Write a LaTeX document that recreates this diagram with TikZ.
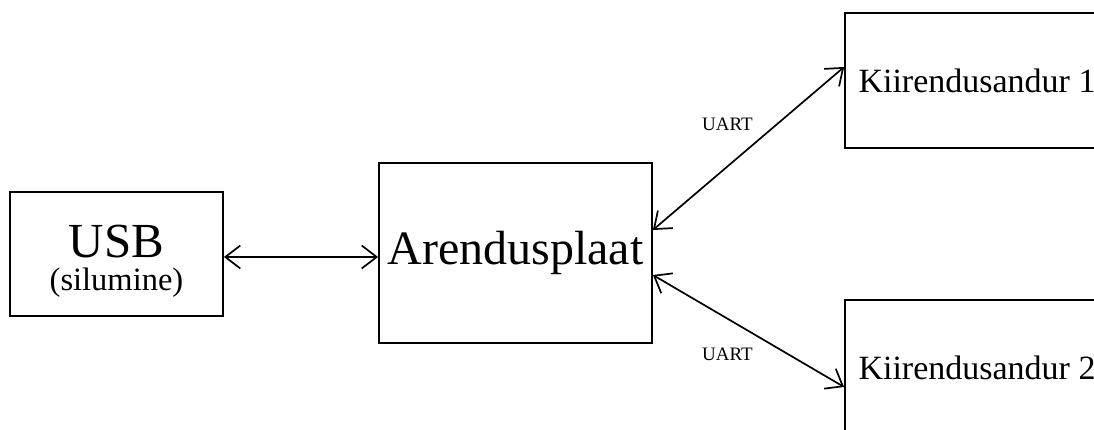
\documentclass[tikz,border=0pt]{standalone}
\usepackage{fontspec}
\setmainfont{Liberation Serif}
\usetikzlibrary{arrows.meta}
\tikzset{
  box/.style={draw, line width=1.8pt, inner sep=0pt, align=center},
  link/.style={line width=1.7pt, {Straight Barb[length=15pt,width=23pt]}-{Straight Barb[length=15pt,width=23pt]}},
  uart/.style={font=\fontsize{19}{21}\selectfont}
}
\begin{document}
\begin{tikzpicture}[x=1pt,y=-1pt]
      \useasboundingbox (0,0) rectangle (1094,430);
      \clip (0,0) rectangle (1094,430);
      \node[box, minimum width=213pt, minimum height=124pt,
        font=\fontsize{32.5}{33}\selectfont] (usb) at (116.5,254)
        {\rule{0pt}{46pt}\fontsize{49}{33}\selectfont USB\\(silumine)};
      \node[box, minimum width=273pt, minimum height=180pt,
        font=\fontsize{48}{52}\selectfont] (plaat) at (515.5,253) {Arendusplaat};
      \node[box, minimum width=264pt, minimum height=135pt,
        font=\fontsize{34}{38}\selectfont] (k1) at (977,80.5) {Kiirendusandur 1};
      \node[box, minimum width=264pt, minimum height=135pt,
        font=\fontsize{34}{38}\selectfont] (k2) at (977,367.5) {Kiirendusandur 2};
      \node[uart] (uart1) at (727.5,124) {UART};
      \node[uart] (uart2) at (727.5,354) {UART};
      \begin{scope}[link]
        \draw ([yshift=-3pt]usb.east) to ([yshift=-4pt]plaat.west);
        \draw ([yshift=23pt]plaat.east) to ([yshift=13.5pt]k1.west);
        \draw ([yshift=-22pt]plaat.east) to ([yshift=-19.5pt]k2.west);
      \end{scope}
    \end{tikzpicture}
\end{document}
